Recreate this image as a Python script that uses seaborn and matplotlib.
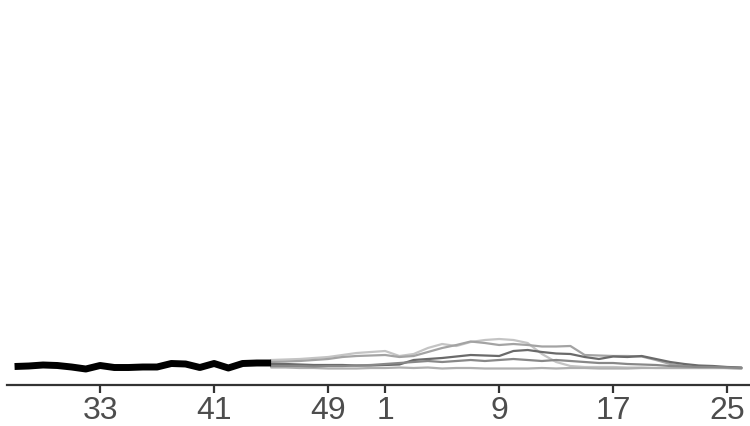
import pandas as pd
import matplotlib
matplotlib.use("Agg")
import matplotlib.pyplot as plt
import seaborn as sns

# epi weeks of the season, week 27 through week 26
weeks = list(range(27, 53)) + list(range(1, 27))

# current season (week 27 - week 45)
current = [0.25, 0.3, 0.4, 0.35, 0.2, 0.0, 0.35, 0.15, 0.15, 0.2,
           0.2, 0.55, 0.5, 0.15, 0.55, 0.1, 0.55, 0.6, 0.6]

# past seasons, shown from week 45 to week 26
past_a = [0.9, 0.95, 1.0, 1.1, 1.2, 1.4, 1.6, 1.7,
          1.8, 1.3, 1.5, 2.1, 2.5, 2.3, 2.7, 2.9,
          3.0, 2.9, 2.6, 1.5, 0.7, 0.3, 0.2, 0.2,
          0.2, 0.15, 0.15, 0.1, 0.1, 0.1, 0.1, 0.1, 0.1, 0.1]
past_b = [0.7, 0.75, 0.8, 0.9, 1.0, 1.2, 1.3, 1.35,
          1.4, 1.2, 1.3, 1.7, 2.1, 2.4, 2.75, 2.6,
          2.4, 2.5, 2.4, 2.25, 2.25, 2.3, 1.4, 1.35,
          1.3, 1.3, 1.25, 0.9, 0.5, 0.3, 0.2, 0.15, 0.1, 0.05]
past_c = [0.5, 0.5, 0.45, 0.4, 0.4, 0.4, 0.35, 0.35,
          0.4, 0.45, 0.9, 1.0, 1.1, 1.25, 1.4, 1.35,
          1.3, 1.8, 1.9, 1.7, 1.55, 1.5, 1.2, 1.0,
          1.25, 1.2, 1.3, 1.0, 0.7, 0.5, 0.35, 0.3, 0.2, 0.15]
past_d = [0.15, 0.15, 0.1, 0.1, 0.05, 0.05, 0.05, 0.1,
          0.1, 0.15, 0.1, 0.15, 0.05, 0.1, 0.1, 0.05,
          0.05, 0.05, 0.05, 0.1, 0.05, 0.1, 0.1, 0.05,
          0.05, 0.05, 0.1, 0.1, 0.1, 0.1, 0.1, 0.1, 0.1, 0.05]
past_e = [0.3, 0.3, 0.3, 0.25, 0.3, 0.3, 0.35, 0.4,
          0.5, 0.6, 0.7, 0.8, 0.7, 0.8, 0.9, 0.8,
          0.9, 1.0, 0.9, 0.8, 0.9, 0.8, 0.7, 0.6,
          0.6, 0.5, 0.45, 0.4, 0.3, 0.25, 0.2, 0.2, 0.15, 0.1]

tick_weeks = [33, 41, 49, 1, 9, 17, 25]

past = {"A": past_a, "B": past_b, "C": past_c, "D": past_d, "E": past_e}
colors = {"A": "#c4c4c4", "B": "#a3a3a3", "C": "#6a6a6a", "D": "#b0b0b0", "E": "#888888"}

start = len(current) - 1
frames = []
for name, vals in past.items():
    frames.append(pd.DataFrame({"pos": list(range(start, start + len(vals))),
                                "value": vals, "season": name}))
df_past = pd.concat(frames, ignore_index=True)
df_cur = pd.DataFrame({"pos": list(range(len(current))), "value": current})

sns.set_style("white")
plt.rcParams["font.family"] = ["Liberation Sans", "DejaVu Sans"]

fig = plt.figure(figsize=(7.5, 4.26), dpi=100, facecolor="white")
ax = fig.add_axes([7 / 750, 41 / 426, 1 - 7 / 750, 1 - 41 / 426])

sns.lineplot(data=df_past, x="pos", y="value", hue="season", palette=colors,
             linewidth=1.6, legend=False, ax=ax)
sns.lineplot(data=df_cur, x="pos", y="value", color="black", linewidth=5,
             solid_capstyle="butt", legend=False, ax=ax)

ax.set_xlim(-0.53, 51.6)
ax.set_ylim(-1.6, 36.9)
ax.set_xticks([weeks.index(w) for w in tick_weeks])
ax.set_xticklabels([str(w) for w in tick_weeks])
ax.set_yticks([])
ax.set_xlabel("")
ax.set_ylabel("")
sns.despine(ax=ax, left=True, top=True, right=True)
ax.spines["bottom"].set_color("#333333")
ax.spines["bottom"].set_linewidth(1.6)
ax.tick_params(axis="x", bottom=True, length=6, width=1.6, color="#333333",
               labelsize=23, labelcolor="#4d4d4d", pad=2)

fig.savefig("out.png", dpi=100, facecolor="white")
